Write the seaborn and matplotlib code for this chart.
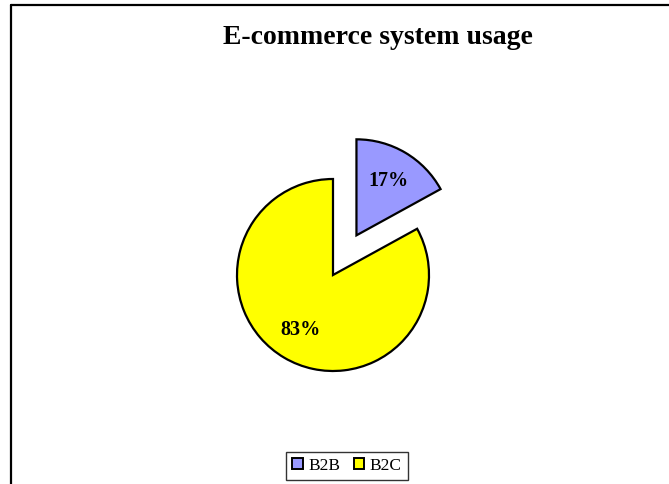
import matplotlib
matplotlib.use("Agg")
import matplotlib.pyplot as plt
from matplotlib.lines import Line2D
from matplotlib.patches import Patch
import seaborn as sns

labels = ["B2B", "B2C"]
shares = [17, 83]
colors = ["#9999FF", "#FFFF00"]
explode = [0.48, 0.0]

sns.set_theme(style="white")
plt.rcParams['font.family'] = ['Liberation Serif', 'DejaVu Serif']
plt.rcParams['text.color'] = 'black'

W, H = 669, 484
fig = plt.figure(figsize=(W / 100, H / 100), dpi=100)

# pie centre (333, 275) px from top-left, radius 96 px
cx, cy, r = 333, H - 275, 96
ax = fig.add_axes([(cx - 2 * r) / W, (cy - 2 * r) / H, 4 * r / W, 4 * r / H])
wedges, texts, autotexts = ax.pie(
    shares, colors=colors, explode=explode, startangle=90, counterclock=False,
    autopct='%1.0f%%', pctdistance=0.66, radius=1,
    wedgeprops=dict(edgecolor='black', linewidth=1.6),
    textprops=dict(fontsize=14.5, fontweight='bold', color='black'))
ax.set_xlim(-2, 2)
ax.set_ylim(-2, 2)
ax.set_aspect('equal')
ax.axis('off')

fig.text(378 / W, 1 - 38 / H, "E-commerce system usage", ha='center', va='center',
         fontsize=20, fontweight='bold', color='black')

handles = [Patch(facecolor=c, edgecolor='black', linewidth=1.4) for c in colors]
leg = fig.legend(handles, labels, loc='center', bbox_to_anchor=(347 / W, 1 - 466 / H),
                 ncol=2, frameon=True, fontsize=12.5, handlelength=0.6, handleheight=0.6,
                 handletextpad=0.3, columnspacing=0.8, borderpad=0.35, fancybox=False)
leg.get_frame().set_edgecolor('black')
leg.get_frame().set_linewidth(1.0)
for t in leg.get_texts():
    t.set_color('black')

# outer frame lines (top and left)
fig.add_artist(Line2D([11 / W, 11 / W], [0, 1 - 5 / H], color='black', linewidth=1.6,
                      transform=fig.transFigure))
fig.add_artist(Line2D([11 / W, 1], [1 - 5 / H, 1 - 5 / H], color='black', linewidth=1.6,
                      transform=fig.transFigure))

fig.savefig("out.png", dpi=100)
